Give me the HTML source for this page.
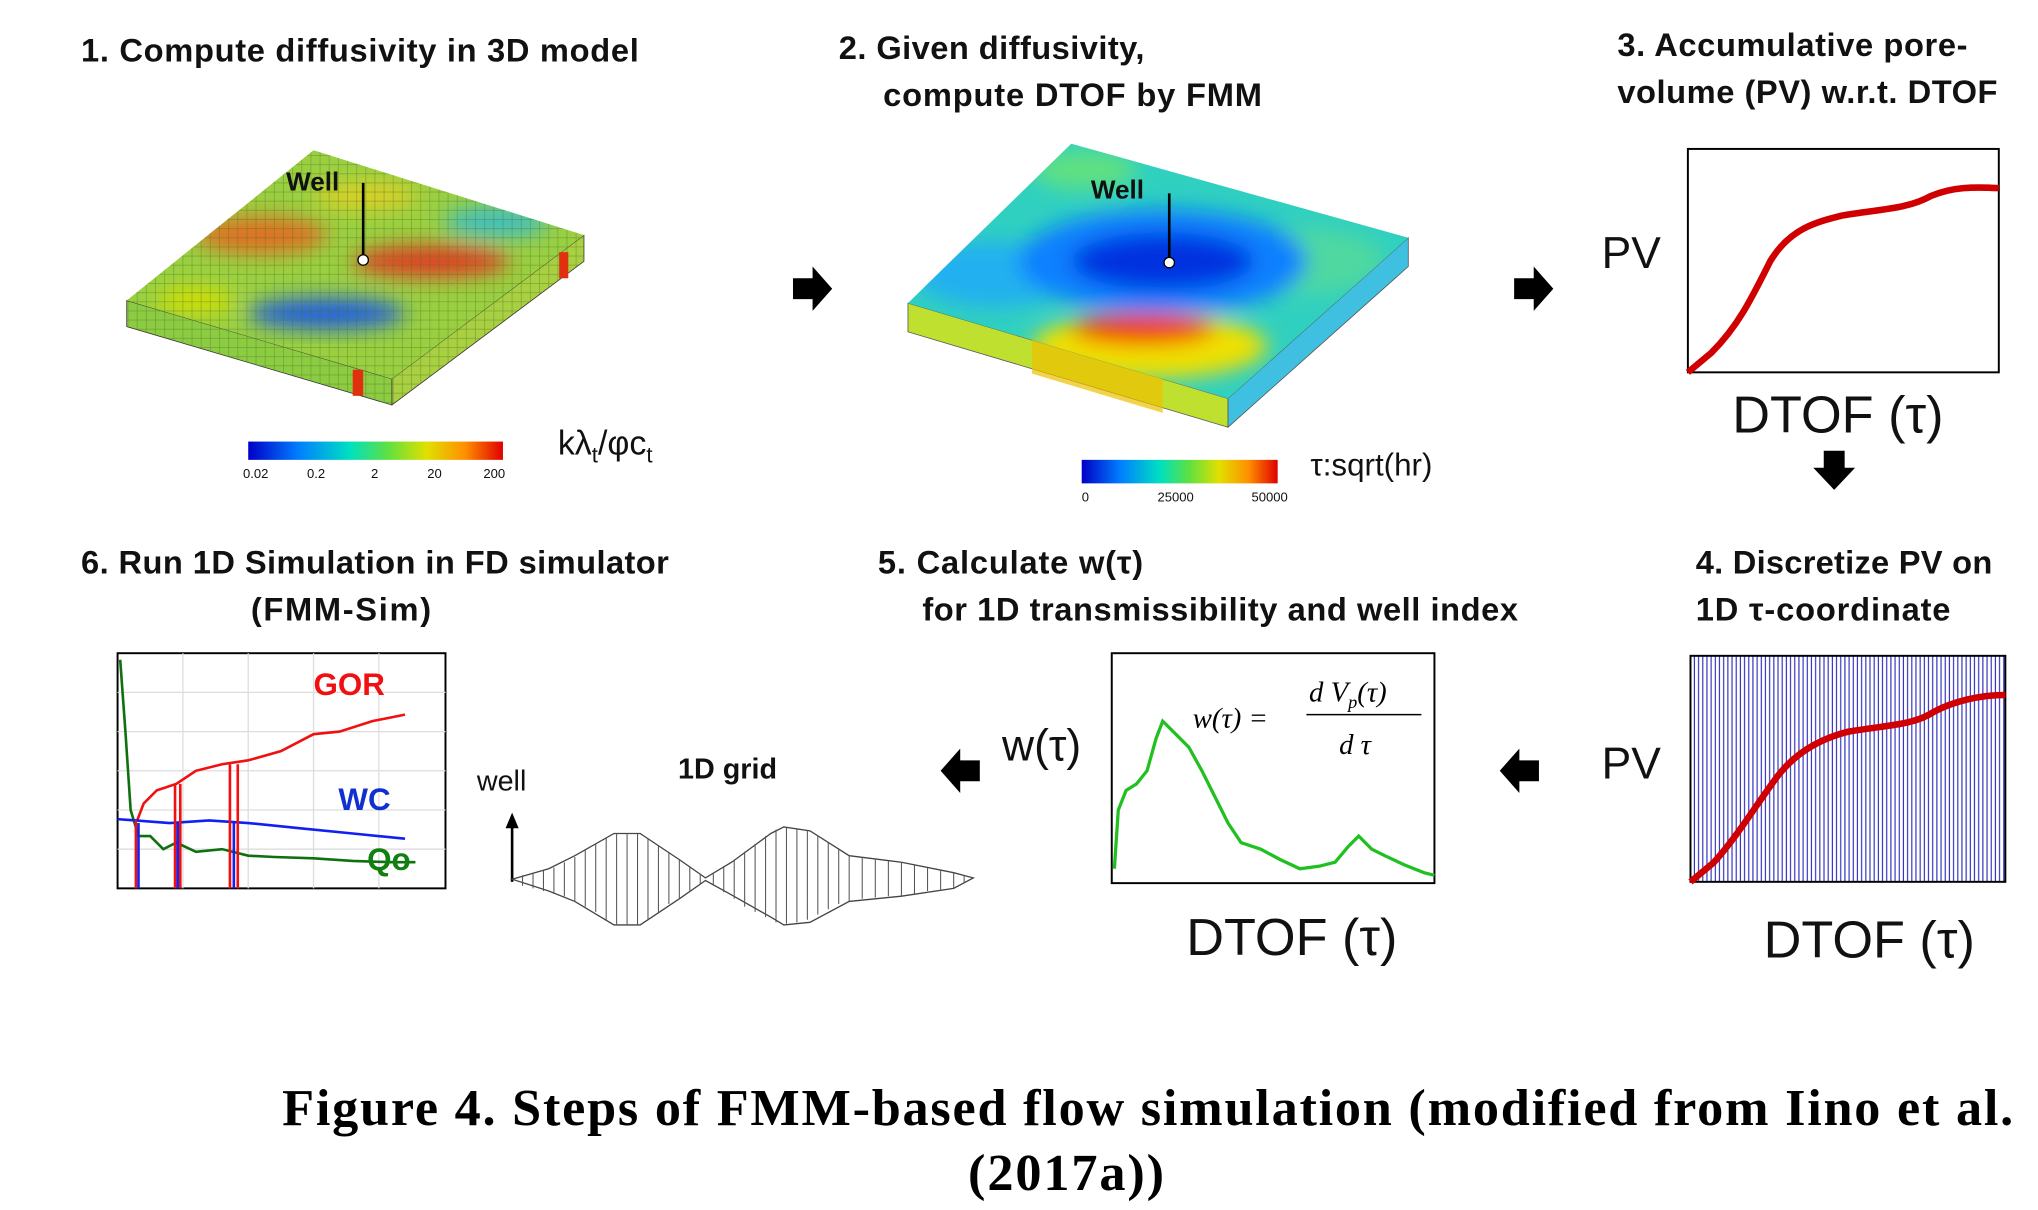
<!DOCTYPE html>
<html><head><meta charset="utf-8"><style>
html,body{margin:0;padding:0;background:#fff}
svg{display:block}
.t{font-family:"Liberation Sans",sans-serif;font-weight:bold;font-size:25px;fill:#111}
.b{font-family:"Liberation Sans",sans-serif;fill:#111}
.c{font-family:"Liberation Serif",serif;font-weight:bold;font-size:40px;fill:#000}
</style></head><body>
<svg width="2038" height="1210" viewBox="0 0 1560 926.2" xmlns="http://www.w3.org/2000/svg">
<defs>
<linearGradient id="jet" x1="0" x2="1">
<stop offset="0" stop-color="#0000c8"/><stop offset="0.2" stop-color="#0080ff"/><stop offset="0.4" stop-color="#00e0c0"/><stop offset="0.55" stop-color="#60e040"/><stop offset="0.7" stop-color="#e0e000"/><stop offset="0.85" stop-color="#ff9000"/><stop offset="1" stop-color="#e00000"/></linearGradient>
<pattern id="grid1" width="7" height="7" patternUnits="userSpaceOnUse"><rect width="7" height="7" fill="none" stroke="#4a6a30" stroke-width="0.5" opacity="0.5"/></pattern>
<pattern id="vl" width="3.2" height="10" patternUnits="userSpaceOnUse"><line x1="1" y1="0" x2="1" y2="10" stroke="#3030c0" stroke-width="0.9"/></pattern>
<clipPath id="top1"><polygon points="97,230 240,115 447,180 300,290"/></clipPath>
<clipPath id="side1"><polygon points="97,230 300,290 447,180 447,200 300,310 97,250"/></clipPath>
<clipPath id="top2"><polygon points="695,232 820,110 1078,182 940,305"/></clipPath>
<filter id="bl"><feGaussianBlur stdDeviation="8"/></filter>
</defs>

<text class="t" x="62" y="47" textLength="427">1. Compute diffusivity in 3D model</text>
<text class="t" x="642" y="45" textLength="234">2. Given diffusivity,</text>
<text class="t" x="676" y="81" textLength="290">compute DTOF by FMM</text>
<text class="t" x="1238" y="43" textLength="268">3. Accumulative pore-</text>
<text class="t" x="1238" y="79" textLength="291">volume (PV) w.r.t. DTOF</text>
<text class="t" x="62" y="439" textLength="450">6. Run 1D Simulation in FD simulator</text>
<text class="t" x="192" y="475" textLength="138">(FMM-Sim)</text>
<text class="t" x="672" y="439" textLength="203">5. Calculate w(τ)</text>
<text class="t" x="706" y="475" textLength="456">for 1D transmissibility and well index</text>
<text class="t" x="1298" y="439" textLength="227">4. Discretize PV on</text>
<text class="t" x="1298" y="475" textLength="195">1D τ-coordinate</text>

<polygon points="97,230 300,290 300,310 97,250" fill="#8ccc40" stroke="#333" stroke-width="0.6"/>
<polygon points="300,290 447,180 447,200 300,310" fill="#a8d040" stroke="#333" stroke-width="0.6"/>
<g clip-path="url(#side1)"><rect x="97" y="180" width="350" height="130" fill="url(#grid1)"/></g>
<g clip-path="url(#top1)">
<rect x="90" y="110" width="370" height="190" fill="#9ad040"/>
<g filter="url(#bl)">
<ellipse cx="200" cy="180" rx="50" ry="14" fill="#e07020"/>
<ellipse cx="330" cy="200" rx="60" ry="12" fill="#e04020"/>
<ellipse cx="250" cy="240" rx="60" ry="12" fill="#2060e0"/>
<ellipse cx="380" cy="170" rx="40" ry="12" fill="#40c0c0"/>
<ellipse cx="150" cy="230" rx="30" ry="10" fill="#d0e000"/>
<ellipse cx="280" cy="150" rx="40" ry="10" fill="#e0d020"/>
</g>
<rect x="90" y="110" width="370" height="190" fill="url(#grid1)"/>
</g>
<rect x="270" y="283" width="8" height="20" fill="#e03010"/>
<rect x="428" y="193" width="7" height="20" fill="#e03010"/>
<text class="b" x="219" y="146" font-size="20" font-weight="bold">Well</text>
<line x1="278" y1="140" x2="278" y2="198" stroke="#000" stroke-width="2"/>
<circle cx="278" cy="199" r="4" fill="#fff" stroke="#000"/>
<rect x="190" y="338" width="195" height="14" fill="url(#jet)"/>
<g class="b" font-size="10"><text x="186" y="366">0.02</text><text x="235" y="366">0.2</text><text x="284" y="366">2</text><text x="327" y="366">20</text><text x="370" y="366">200</text></g>
<text class="b" x="427" y="348" font-size="26">kλ<tspan font-size="17" dy="6">t</tspan><tspan dy="-6">/φc</tspan><tspan font-size="17" dy="6">t</tspan></text>

<polygon points="695,232 940,305 940,327 695,254" fill="#c0e030" stroke="#555" stroke-width="0.6"/>
<polygon points="940,305 1078,182 1078,204 940,327" fill="#40c0e0" stroke="#555" stroke-width="0.6"/>
<polygon points="790,260 890,290 890,316 790,286" fill="#f0c000" opacity="0.7"/>
<g clip-path="url(#top2)">
<rect x="690" y="105" width="395" height="205" fill="#30d0c0"/>
<g filter="url(#bl)">
<ellipse cx="760" cy="210" rx="60" ry="25" fill="#20b0f0"/>
<ellipse cx="1000" cy="200" rx="60" ry="25" fill="#50d8a0"/>
<ellipse cx="890" cy="200" rx="110" ry="40" fill="#1080ff"/>
<ellipse cx="890" cy="200" rx="70" ry="22" fill="#0030e0"/>
<ellipse cx="880" cy="265" rx="90" ry="25" fill="#f0e000"/>
<ellipse cx="875" cy="252" rx="55" ry="12" fill="#f04000"/>
<ellipse cx="830" cy="130" rx="40" ry="15" fill="#60e080"/>
</g>
</g>
<text class="b" x="835" y="152" font-size="20" font-weight="bold">Well</text>
<line x1="895" y1="148" x2="895" y2="200" stroke="#000" stroke-width="2"/>
<circle cx="895" cy="201" r="4" fill="#fff" stroke="#000"/>
<rect x="828" y="352" width="150" height="18" fill="url(#jet)"/>
<g class="b" font-size="10"><text x="828" y="384">0</text><text x="886" y="384">25000</text><text x="958" y="384">50000</text></g>
<text class="b" x="1003" y="364" font-size="24">τ:sqrt(hr)</text>

<g fill="#000">
<polygon points="607,213 622,213 622,204 637,221 622,238 622,229 607,229"/>
<polygon points="1159,213 1174,213 1174,204 1189,221 1174,238 1174,229 1159,229"/>
<polygon points="1396,345 1412,345 1412,358 1420,358 1404,375 1388,358 1396,358"/>
<polygon points="1178,582 1163,582 1163,573 1148,590 1163,607 1163,598 1178,598"/>
<polygon points="750,582 735,582 735,573 720,590 735,607 735,598 750,598"/>
</g>

<rect x="1292" y="114" width="238" height="171" fill="#fff" stroke="#000" stroke-width="1.5"/>
<path d="M1292,285 L1310,270 C1330,250 1340,230 1355,200 C1370,175 1390,170 1410,165 C1440,160 1460,160 1478,150 C1495,143 1510,143 1530,144" fill="none" stroke="#d00000" stroke-width="5"/>
<text class="b" x="1226" y="205" font-size="34">PV</text>
<text class="b" x="1326" y="331" font-size="40">DTOF (τ)</text>

<rect x="1294" y="502" width="241" height="173" fill="url(#vl)" stroke="#000" stroke-width="1.5"/>
<path d="M1294,675 L1312,660 C1330,640 1345,615 1360,595 C1375,575 1395,565 1415,560 C1445,555 1465,555 1480,545 C1495,537 1515,532 1535,532" fill="none" stroke="#d00000" stroke-width="5"/>
<text class="b" x="1226" y="596" font-size="34">PV</text>
<text class="b" x="1350" y="733" font-size="40">DTOF (τ)</text>

<rect x="851" y="500" width="247" height="176" fill="#fff" stroke="#000" stroke-width="1.5"/>
<path d="M853,665 L856,620 L862,605 L870,600 L878,590 L885,565 L890,552 L898,560 L910,572 L920,590 L930,610 L940,630 L950,645 L965,650 L980,658 L995,665 L1010,663 L1022,660 L1032,648 L1040,640 L1050,650 L1060,655 L1075,662 L1090,668 L1098,670" fill="none" stroke="#20c020" stroke-width="2.5"/>
<text x="913" y="557" font-family="Liberation Serif,serif" font-style="italic" font-size="22">w(τ) =</text>
<text x="1002" y="537" font-family="Liberation Serif,serif" font-style="italic" font-size="22">d V<tspan font-size="14" dy="5">p</tspan><tspan dy="-5">(τ)</tspan></text>
<line x1="1000" y1="547" x2="1088" y2="547" stroke="#000" stroke-width="1.2"/>
<text x="1025" y="577" font-family="Liberation Serif,serif" font-style="italic" font-size="22">d τ</text>
<text class="b" x="767" y="582" font-size="34">w(τ)</text>
<text class="b" x="908" y="731" font-size="40">DTOF (τ)</text>

<rect x="90" y="500" width="251" height="180" fill="#fff" stroke="#000" stroke-width="1.5"/>
<g stroke="#ddd" stroke-width="1">
<line x1="140" y1="500" x2="140" y2="680"/><line x1="190" y1="500" x2="190" y2="680"/><line x1="240" y1="500" x2="240" y2="680"/><line x1="290" y1="500" x2="290" y2="680"/>
<line x1="90" y1="530" x2="341" y2="530"/><line x1="90" y1="560" x2="341" y2="560"/><line x1="90" y1="590" x2="341" y2="590"/><line x1="90" y1="620" x2="341" y2="620"/><line x1="90" y1="650" x2="341" y2="650"/>
</g>
<path d="M92,505 L96,560 L100,620 L106,640 L115,640 L125,650 L135,645 L150,652 L170,650 L190,655 L210,656 L240,657 L270,659 L300,660 L318,660" fill="none" stroke="#107010" stroke-width="2"/>
<path d="M105,628 L110,615 L120,605 L135,600 L150,590 L170,585 L190,582 L215,575 L240,562 L260,560 L285,552 L310,547" fill="none" stroke="#f01010" stroke-width="2"/>
<path d="M90,627 L130,630 L160,628 L190,630 L230,634 L270,638 L310,642" fill="none" stroke="#1020f0" stroke-width="2"/>
<g stroke="#f01010" stroke-width="2"><line x1="104" y1="628" x2="104" y2="680"/><line x1="134" y1="600" x2="134" y2="680"/><line x1="138" y1="600" x2="138" y2="680"/><line x1="176" y1="585" x2="176" y2="680"/><line x1="182" y1="585" x2="182" y2="680"/></g>
<g stroke="#1020f0" stroke-width="2"><line x1="106" y1="630" x2="106" y2="680"/><line x1="136" y1="630" x2="136" y2="680"/><line x1="179" y1="630" x2="179" y2="680"/></g>
<text class="b" x="240" y="532" font-size="24" font-weight="bold" style="fill:#f01010">GOR</text>
<text class="b" x="259" y="620" font-size="24" font-weight="bold" style="fill:#1030d0">WC</text>
<text class="b" x="281" y="666" font-size="24" font-weight="bold" style="fill:#108010">Qo</text>

<text class="b" x="365" y="605" font-size="22">well</text>
<text class="b" x="519" y="596" font-size="22" font-weight="bold">1D grid</text>
<line x1="392" y1="675" x2="392" y2="628" stroke="#000" stroke-width="2"/>
<polygon points="392,622 387,634 397,634" fill="#000"/>
<path d="M392,673 L420,665 L440,655 L470,638 L490,638 L520,658 L540,672 L560,660 L590,638 L600,633 L620,636 L650,655 L690,660 L730,668 L745,672 L730,680 L690,686 L650,690 L620,706 L600,708 L590,702 L560,685 L540,674 L520,688 L490,708 L470,708 L440,690 L420,682 Z" fill="#fff" stroke="#444" stroke-width="1"/>
<g stroke="#555" stroke-width="0.8">
<path d="M400,670V678M408,668V680M416,666V682M424,664V684M432,660V686M440,656V690M448,651V694M456,646V698M464,641V704M472,638V708M480,638V708M488,638V708M496,642V704M504,647V698M512,653V692M520,658V688M528,663V683M536,669V677M546,668V678M554,663V683M562,658V688M570,652V694M578,646V698M586,640V702M594,635V706M602,633V707M610,634V706M618,636V704M626,640V700M634,645V696M642,650V692M650,655V690M660,656V688M670,657V687M680,659V686M690,660V686M700,662V684M710,664V682M720,666V681M730,668V680M738,670V676"/>
</g>

<text class="c" x="216" y="861" textLength="1325">Figure 4. Steps of FMM-based flow simulation (modified from Iino et al.</text>
<text class="c" x="741" y="911" textLength="150">(2017a))</text>
</svg>
</body></html>
